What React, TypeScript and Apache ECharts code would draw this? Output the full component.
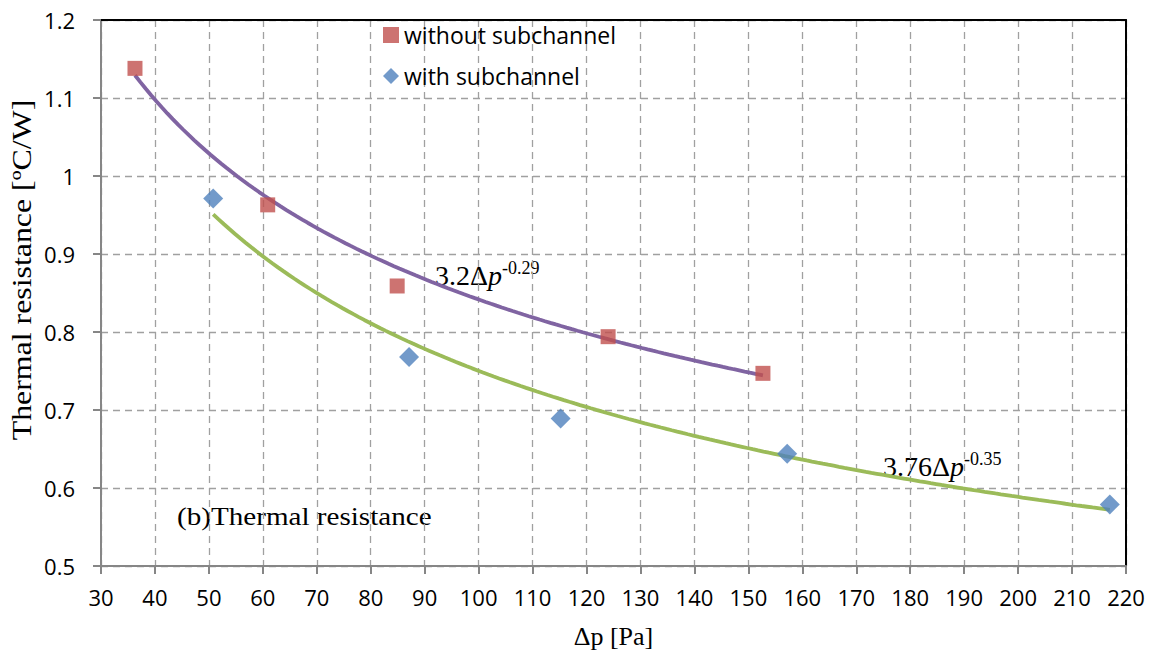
import React, { useEffect, useRef } from "react";
import * as echarts from "echarts";

// Measured points: pressure drop Δp [Pa] vs. thermal resistance [ºC/W]
const dpWithout = [36.3, 60.9, 84.9, 124.0, 152.7];
const rWithout = [1.138, 0.963, 0.859, 0.794, 0.747];
const dpWith = [50.8, 87.1, 115.2, 157.2, 217.0];
const rWith = [0.971, 0.768, 0.689, 0.644, 0.579];

// Power-law trend lines R = a·Δp^b, as stated in the annotations
const fitWithout = { a: 3.2, b: -0.29 };
const fitWith = { a: 3.76, b: -0.35 };

const seriesNames = ["without subchannel", "with subchannel"];

const COLORS = {
  without: "#C0504D",
  with: "#4F81BD",
  fitWithout: "#8064A2",
  fitWith: "#9BBB59",
};

function trend(fit: { a: number; b: number }, xs: number[]) {
  const lo = Math.min(...xs);
  const hi = Math.max(...xs);
  const pts: number[][] = [];
  for (let x = lo; x < hi; x += 1) pts.push([x, fit.a * Math.pow(x, fit.b)]);
  pts.push([hi, fit.a * Math.pow(hi, fit.b)]);
  return pts;
}

const zip = (xs: number[], ys: number[]) => xs.map((x, i) => [x, ys[i]]);

const SANS = '"Open Sans", "Noto Sans", sans-serif';
const SERIF = '"Liberation Serif", "Times New Roman", serif';

function formulaText(x: number, y: number, coef: string, exp: string) {
  const base = { fontFamily: SERIF, fontSize: 28, lineHeight: 30, verticalAlign: "bottom", fill: "#000" };
  return {
    type: "text",
    x,
    y,
    style: {
      text: `{n|${coef}Δ}{i|p}{s|${exp}}`,
      verticalAlign: "top",
      rich: {
        n: base,
        i: { ...base, fontStyle: "italic" },
        s: { fontFamily: SERIF, fontSize: 18, lineHeight: 18, verticalAlign: "top", fill: "#000" },
      },
    },
  };
}

export default function App() {
  const ref = useRef<HTMLDivElement>(null);

  useEffect(() => {
    if (!ref.current) return;
    const chart = echarts.init(ref.current, null, { renderer: "svg" });

    const axisGray = "#868686";
    const gridStyle = { color: "#A0A0A0", width: 1.3, type: [7, 5] as number[] };

    const option: any = {
      animation: false,
      backgroundColor: "#fff",
      grid: { left: 101, right: 29, top: 20, bottom: 93, containLabel: false },
      legend: {
        data: seriesNames,
        orient: "vertical",
        left: 383,
        top: 23,
        padding: 0,
        itemWidth: 16,
        itemHeight: 16,
        itemGap: 17,
        selectedMode: false,
        textStyle: { fontFamily: SANS, fontSize: 23, color: "#000", lineHeight: 24 },
      },
      xAxis: [
        {
          type: "value",
          min: 30,
          max: 220,
          interval: 10,
          name: "Δp [Pa]",
          nameLocation: "middle",
          nameGap: 57,
          nameTextStyle: { fontFamily: SERIF, fontSize: 26, color: "#000" },
          axisLine: { show: true, onZero: false, lineStyle: { color: axisGray, width: 2 } },
          axisTick: { show: true, inside: false, length: 8, lineStyle: { color: axisGray, width: 2 } },
          axisLabel: { fontFamily: SANS, fontSize: 22, color: "#000", margin: 20 },
          splitLine: { show: true, lineStyle: gridStyle },
        },
        {
          type: "value",
          position: "top",
          min: 30,
          max: 220,
          interval: 10,
          axisLine: { show: true, onZero: false, lineStyle: { color: "#000", width: 2 } },
          axisTick: { show: false },
          axisLabel: { show: false },
          splitLine: { show: false },
        },
      ],
      yAxis: [
        {
          type: "value",
          min: 0.5,
          max: 1.2,
          interval: 0.1,
          axisLine: { show: true, onZero: false, lineStyle: { color: axisGray, width: 2 } },
          axisTick: { show: true, inside: false, length: 8, lineStyle: { color: axisGray, width: 2 } },
          axisLabel: {
            fontFamily: SANS,
            fontSize: 22,
            color: "#000",
            margin: 26,
            formatter: (v: number) => String(+v.toFixed(1)),
          },
          splitLine: { show: true, lineStyle: gridStyle },
        },
        {
          type: "value",
          position: "right",
          min: 0.5,
          max: 1.2,
          interval: 0.1,
          axisLine: { show: true, onZero: false, lineStyle: { color: "#000", width: 2 } },
          axisTick: { show: false },
          axisLabel: { show: false },
          splitLine: { show: false },
        },
      ],
      series: [
        {
          name: "fit without subchannel",
          type: "line",
          data: trend(fitWithout, dpWithout),
          showSymbol: false,
          lineStyle: { color: COLORS.fitWithout, width: 3.8 },
          z: 2,
          silent: true,
        },
        {
          name: "fit with subchannel",
          type: "line",
          data: trend(fitWith, dpWith),
          showSymbol: false,
          lineStyle: { color: COLORS.fitWith, width: 3.8 },
          z: 2,
          silent: true,
        },
        {
          name: seriesNames[0],
          type: "scatter",
          data: zip(dpWithout, rWithout),
          symbol: "rect",
          symbolSize: 15,
          itemStyle: { color: COLORS.without },
          z: 3,
        },
        {
          name: seriesNames[1],
          type: "scatter",
          data: zip(dpWith, rWith),
          symbol: "diamond",
          symbolSize: 20,
          itemStyle: { color: COLORS.with },
          z: 3,
        },
      ],
      graphic: [
        // vertical axis title
        {
          type: "text",
          x: 22,
          y: 270,
          rotation: Math.PI / 2,
          scaleX: 1.18,
          style: {
            text: "Thermal resistance [ºC/W]",
            fontFamily: SERIF,
            fontSize: 27,
            fill: "#000",
            align: "center",
            verticalAlign: "middle",
          },
        },
        formulaText(435, 259, "3.2", "-0.29"),
        formulaText(883, 450, "3.76", "-0.35"),
        {
          type: "text",
          x: 177,
          y: 516,
          scaleX: 1.12,
          style: {
            text: "(b)Thermal resistance",
            fontFamily: SERIF,
            fontSize: 26,
            fill: "#000",
            verticalAlign: "middle",
          },
        },
      ],
    };

    chart.setOption(option);
    return () => chart.dispose();
  }, []);

  return (
    <div
      ref={ref}
      style={{ position: "absolute", left: 0, top: 0, width: 1155, height: 659, background: "#fff" }}
    />
  );
}
